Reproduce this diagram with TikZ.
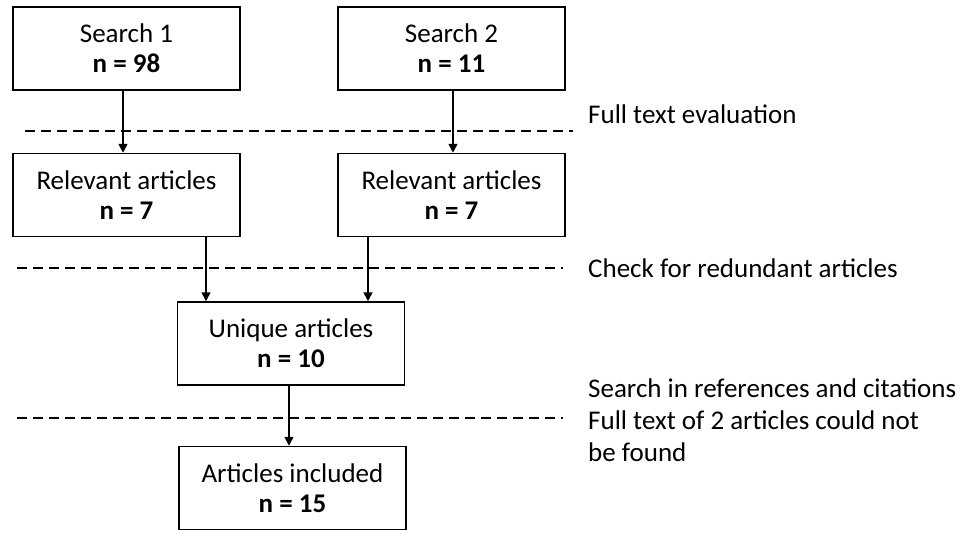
\documentclass[tikz,border=0pt]{standalone}
\usepackage{fontspec}
\setmainfont{Carlito}
\usetikzlibrary{calc,arrows.meta}

\begin{document}
\begin{tikzpicture}[x=1pt, y=-1pt,
    box/.style={draw, line width=1.5pt, minimum width=227pt, minimum height=83pt,
        align=center, inner sep=0pt, font=\fontsize{27}{30}\selectfont},
    sep/.style={line width=1.8pt, dash pattern=on 10pt off 6pt},
    arr/.style={line width=1.6pt, -{Triangle[length=9pt,width=9pt]}},
    note/.style={anchor=base west, align=left, inner sep=0pt,
        font=\fontsize{27}{32}\selectfont}]
    \useasboundingbox (0,0) rectangle (961,533);

    % Paieškos
    \node[box] (S1) at (126.5,48.5) {Search 1\\\textbf{n = 98}};
    \node[box] (S2) at (451.5,48.5) {Search 2\\\textbf{n = 11}};
    \node[box] (R1) at (126.5,195) {Relevant articles\\\textbf{n = 7}};
    \node[box] (R2) at (451.5,195) {Relevant articles\\\textbf{n = 7}};
    \node[box] (U) at (291,343.5) {Unique articles\\\textbf{n = 10}};
    \node[box] (A) at (292.5,488) {Articles included\\\textbf{n = 15}};

    % Ribos
    \foreach \y/\xa/\xb in {131/25/573, 268/17/563, 418/17/563} {
        \draw[sep] (\xa,\y) -- (\xb,\y);
    }

    % Rodyklės
    \draw[arr] ([xshift=-3.5pt]S1.south) -- ([xshift=-3.5pt]R1.north);
    \draw[arr] ([xshift=1.5pt]S2.south) -- ([xshift=1.5pt]R2.north);
    \draw[arr] ([xshift=79.5pt]R1.south) -- ([xshift=79.5pt]R1.south |- U.north);
    \draw[arr] ([xshift=-83.5pt]R2.south) -- ([xshift=-83.5pt]R2.south |- U.north);
    \draw[arr] ([xshift=-2pt]U.south) -- ([xshift=-2pt]U.south |- A.north);

    % Paaiškinimai
    \node[note] (N1) at (588,123) {Full text evaluation};
    \node[note] (N2) at (588,277) {Check for redundant articles};
    \node[note] (N3) at (588,461) {Search in references and citations\\Full text of 2 articles could not\\be found};
\end{tikzpicture}
\end{document}
